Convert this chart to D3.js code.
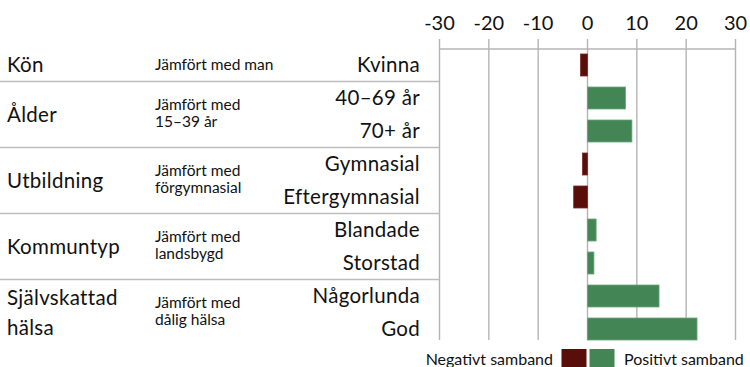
<!DOCTYPE html>
<html>
<head>
<meta charset="utf-8">
<script src="https://cdn.jsdelivr.net/npm/d3@7/dist/d3.min.js"></script>
<style>
  html, body { margin: 0; padding: 0; background: #fff; }
  svg { display: block; font-family: Lato, "Open Sans", sans-serif; }
</style>
</head>
<body>
<svg id="chart" width="750" height="367"></svg>
<script>
// Categories, top to bottom
const categories = ["Kvinna", "40–69 år", "70+ år", "Gymnasial", "Eftergymnasial",
                    "Blandade", "Storstad", "Någorlunda", "God"];
// Effect per category (procentenheter)
const values = [-1.4, 7.7, 9.0, -1.0, -2.8, 1.75, 1.3, 14.5, 22.2];
// Groups: name lines, reference lines, first and last category
const groupNames = [["Kön"], ["Ålder"], ["Utbildning"], ["Kommuntyp"], ["Självskattad", "hälsa"]];
const groupRefs = [["Jämfört med man"], ["Jämfört med", "15–39 år"], ["Jämfört med", "förgymnasial"],
                   ["Jämfört med", "landsbygd"], ["Jämfört med", "dålig hälsa"]];
const groupSpans = [[0, 0], [1, 2], [3, 4], [5, 6], [7, 8]];
const tickValues = [-30, -20, -10, 0, 10, 20, 30];
const legendLabels = ["Negativt samband", "Positivt samband"];

const colNeg = "#5a0e0a", colPos = "#448555";
const strokeNeg = "#7a2a24", strokePos = "#6aa57a";
const gridCol = "#b4b4b4";

const svg = d3.select("#chart");

const x = d3.scaleLinear().domain([-30, 30]).range([439.5, 735.5]);
const y = d3.scaleBand().domain(categories).range([48.5, 345.5])
  .paddingInner(1 / 3).paddingOuter(1 / 6);

// Grid lines and top axis
const axisTop = 49;
const gridBottom = y(categories[categories.length - 1]) + y.bandwidth();
svg.append("g").selectAll("line").data(tickValues).join("line")
  .attr("x1", d => x(d)).attr("x2", d => x(d))
  .attr("y1", axisTop - 10).attr("y2", gridBottom)
  .attr("stroke", gridCol).attr("stroke-width", 1.4);
svg.append("line")
  .attr("x1", x(-30)).attr("x2", x(30))
  .attr("y1", axisTop).attr("y2", axisTop)
  .attr("stroke", gridCol).attr("stroke-width", 1.4);
svg.append("g").selectAll("text").data(tickValues).join("text")
  .attr("x", d => x(d)).attr("y", 30)
  .attr("text-anchor", "middle")
  .attr("font-size", 20).attr("fill", "#111")
  .text(d => d3.format("d")(d).replace("−", "-"));

// Separators between groups
const sepY = groupSpans.slice(1).map((s, i) => {
  const prevEnd = y(categories[groupSpans[i][1]]) + y.bandwidth();
  const nextStart = y(categories[s[0]]);
  return (prevEnd + nextStart) / 2;
});
svg.append("g").selectAll("line").data(sepY).join("line")
  .attr("x1", 0).attr("x2", x(-30))
  .attr("y1", d => d).attr("y2", d => d)
  .attr("stroke", "#bdbdbd").attr("stroke-width", 1.4);

// Bars
svg.append("g").selectAll("rect").data(values).join("rect")
  .attr("x", d => x(Math.min(0, d)))
  .attr("y", (d, i) => y(categories[i]))
  .attr("width", d => Math.abs(x(d) - x(0)))
  .attr("height", y.bandwidth())
  .attr("fill", d => d < 0 ? colNeg : colPos)
  .attr("stroke", d => d < 0 ? strokeNeg : strokePos)
  .attr("stroke-width", 0.8);

// Category labels
svg.append("g").selectAll("text").data(categories).join("text")
  .attr("x", 420).attr("y", d => y(d) + y.bandwidth() / 2)
  .attr("dy", "0.35em").attr("text-anchor", "end")
  .attr("font-size", 20.5).attr("letter-spacing", 0.3).attr("fill", "#111")
  .text(d => d);

// Group names and reference texts
const groupCenter = s => (y(categories[s[0]]) + y(categories[s[1]]) + y.bandwidth()) / 2;
const gName = svg.append("g").selectAll("text").data(groupNames).join("text")
  .attr("x", 7).attr("font-size", 20.5).attr("letter-spacing", 0.3).attr("fill", "#111");
gName.each(function (lines, i) {
  const c = groupCenter(groupSpans[i]);
  const lh = 30;
  const top = c - (lines.length - 1) * lh / 2;
  d3.select(this).selectAll("tspan").data(lines).join("tspan")
    .attr("x", 7).attr("y", (d, k) => top + k * lh).attr("dy", "0.35em").text(d => d);
});
const gRef = svg.append("g").selectAll("text").data(groupRefs).join("text")
  .attr("font-size", 15.5).attr("fill", "#111");
gRef.each(function (lines, i) {
  const c = groupCenter(groupSpans[i]);
  const lh = 17;
  const top = c - (lines.length - 1) * lh / 2 - (lines.length > 1 ? 1 : 0);
  d3.select(this).selectAll("tspan").data(lines).join("tspan")
    .attr("x", 155).attr("y", (d, k) => top + k * lh).attr("dy", "0.35em").text(d => d);
});

// Legend
const leg = svg.append("g");
leg.append("rect").attr("x", 561.5).attr("y", 349).attr("width", 25).attr("height", 20).attr("fill", colNeg);
leg.append("rect").attr("x", 589.5).attr("y", 349).attr("width", 25).attr("height", 20).attr("fill", colPos);
leg.append("text").attr("x", 553).attr("y", 365).attr("text-anchor", "end")
  .attr("font-size", 16).attr("fill", "#111").text(legendLabels[0]);
leg.append("text").attr("x", 624).attr("y", 365)
  .attr("font-size", 16).attr("fill", "#111").text(legendLabels[1]);
</script>
</body>
</html>
